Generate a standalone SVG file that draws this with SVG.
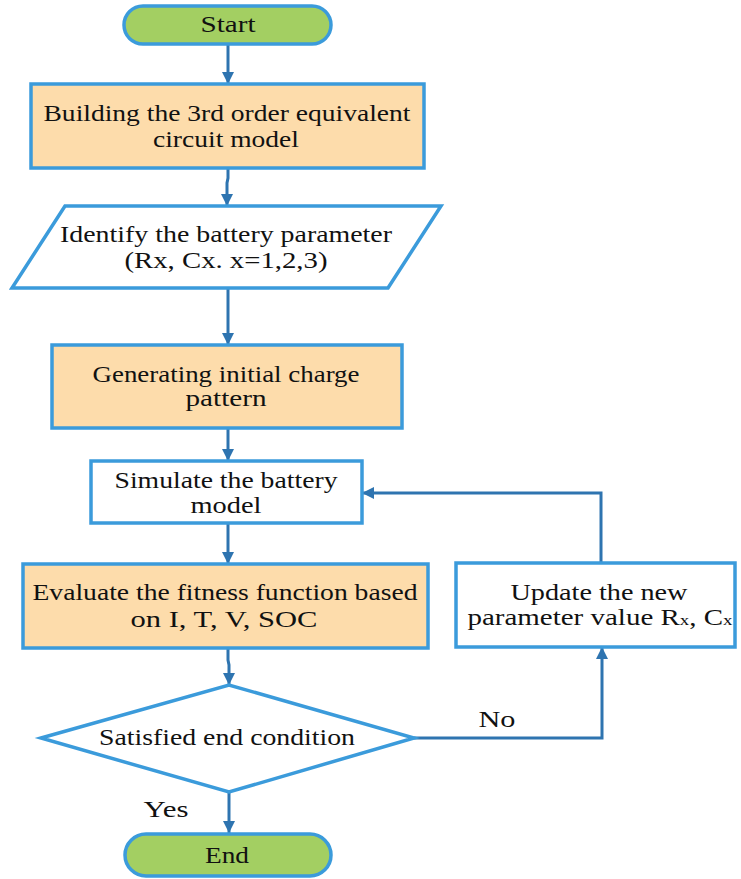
<svg xmlns="http://www.w3.org/2000/svg" width="741" height="879" viewBox="0 0 741 879">
<style>
.nd{stroke:#3b9bdb;stroke-width:3.5;stroke-linejoin:miter}
.term{fill:#a3cf62}
.proc{fill:#fddcab}
.plain{fill:#ffffff}
.t{font-family:'Liberation Serif',Tinos,serif;font-size:23px;fill:#111;text-anchor:middle}
.cn{fill:none;stroke:#2e74b0;stroke-width:3}
</style>
<defs>
<marker id="ah" markerUnits="userSpaceOnUse" markerWidth="14" markerHeight="12" refX="12" refY="6" orient="auto">
<path d="M0,0 L12,6 L0,12 Z" fill="#2e74b0"/>
</marker>
</defs>
<rect width="741" height="879" fill="#ffffff"/>
<g id="connectors">
<path class="cn" d="M228,44 V84" marker-end="url(#ah)"/>
<path class="cn" d="M228,168 V178 L227,183 V206" marker-end="url(#ah)"/>
<path class="cn" d="M228,288 V345" marker-end="url(#ah)"/>
<path class="cn" d="M228,428 V461" marker-end="url(#ah)"/>
<path class="cn" d="M228,523 V564" marker-end="url(#ah)"/>
<path class="cn" d="M228,648 V660 L229,665 V685" marker-end="url(#ah)"/>
<path class="cn" d="M229,792 V833" marker-end="url(#ah)"/>
<path class="cn" d="M414,738 H602 V647" marker-end="url(#ah)"/>
<path class="cn" d="M601,563 V493 H362" marker-end="url(#ah)"/>
<text class="t" x="497" y="727" textLength="37" lengthAdjust="spacingAndGlyphs">No</text>
<text class="t" x="166" y="817" textLength="45" lengthAdjust="spacingAndGlyphs">Yes</text>
</g>
<g id="start">
<rect class="nd term" x="124" y="6" width="207" height="38" rx="19"/>
<text class="t" x="228" y="32" textLength="55" lengthAdjust="spacingAndGlyphs">Start</text>
</g>
<g id="build">
<rect class="nd proc" x="31" y="84" width="393" height="84"/>
<text class="t" x="227" y="121" textLength="367" lengthAdjust="spacingAndGlyphs">Building the 3rd order equivalent</text>
<text class="t" x="226" y="147" textLength="146" lengthAdjust="spacingAndGlyphs">circuit model</text>
</g>
<g id="identify">
<polygon class="nd plain" points="65,206 441,206 388,288 12,288"/>
<text class="t" x="226" y="242" textLength="332" lengthAdjust="spacingAndGlyphs">Identify the battery parameter</text>
<text class="t" x="226" y="268" textLength="203" lengthAdjust="spacingAndGlyphs">(Rx, Cx. x=1,2,3)</text>
</g>
<g id="generate">
<rect class="nd proc" x="52" y="345" width="350" height="83"/>
<text class="t" x="226" y="382" textLength="267" lengthAdjust="spacingAndGlyphs">Generating initial charge</text>
<text class="t" x="226" y="406" textLength="81" lengthAdjust="spacingAndGlyphs">pattern</text>
</g>
<g id="simulate">
<rect class="nd plain" x="91" y="461" width="271" height="62"/>
<text class="t" x="226" y="488" textLength="223" lengthAdjust="spacingAndGlyphs">Simulate the battery</text>
<text class="t" x="226" y="513" textLength="71" lengthAdjust="spacingAndGlyphs">model</text>
</g>
<g id="evaluate">
<rect class="nd proc" x="23" y="564" width="405" height="84"/>
<text class="t" x="225" y="600" textLength="385" lengthAdjust="spacingAndGlyphs">Evaluate the fitness function based</text>
<text class="t" x="224" y="627" textLength="187" lengthAdjust="spacingAndGlyphs">on I, T, V, SOC</text>
</g>
<g id="update">
<rect class="nd plain" x="456" y="563" width="279" height="84"/>
<text class="t" x="599" y="600" textLength="177" lengthAdjust="spacingAndGlyphs">Update the new</text>
<text class="t" x="600" y="625" textLength="265" lengthAdjust="spacingAndGlyphs">parameter value R<tspan font-size="15">x</tspan>, C<tspan font-size="15">x</tspan></text>
</g>
<g id="decision">
<polygon class="nd plain" points="41,738 229,685 414,738 229,792"/>
<text class="t" x="227" y="745" textLength="256" lengthAdjust="spacingAndGlyphs">Satisfied end condition</text>
</g>
<g id="end">
<rect class="nd term" x="125" y="834" width="206" height="42" rx="21"/>
<text class="t" x="227" y="863" textLength="44" lengthAdjust="spacingAndGlyphs">End</text>
</g>
</svg>
